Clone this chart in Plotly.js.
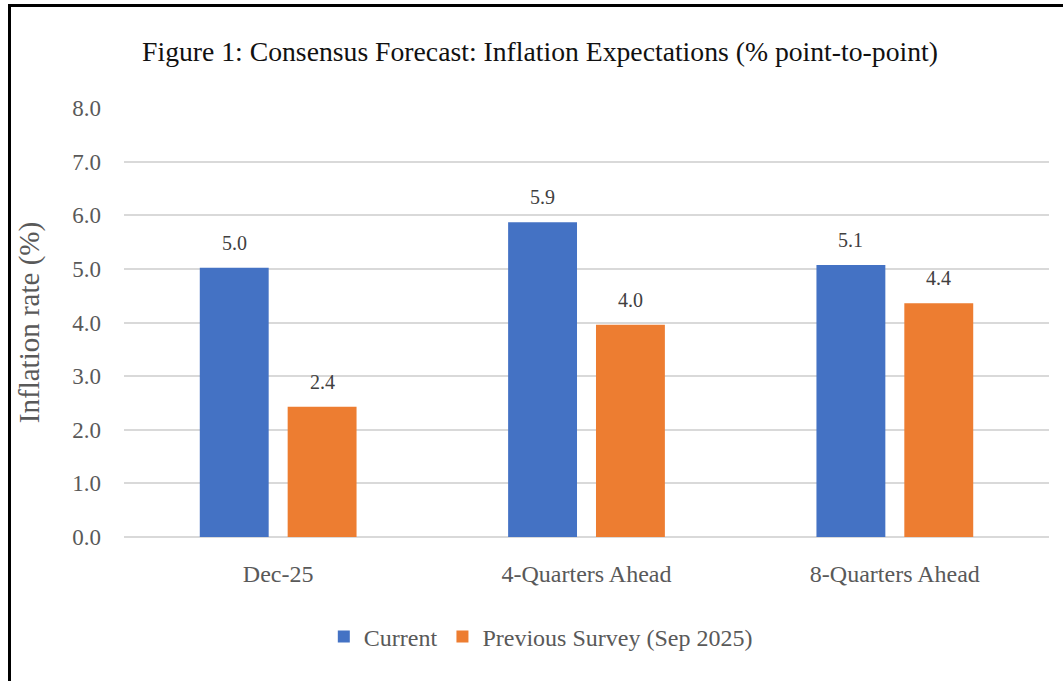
<!DOCTYPE html>
<html>
<head>
<meta charset="utf-8">
<script src="https://cdn.plot.ly/plotly-3.0.1.min.js"></script>
<style>
  html, body { margin: 0; padding: 0; background: #ffffff; }
  #wrap { position: relative; width: 1063px; height: 681px; overflow: hidden; }
  #chart { position: absolute; left: 0; top: 0; width: 1063px; height: 681px; }
  #frame { position: absolute; left: 8px; top: 4px; width: 1200px; height: 800px;
           border-left: 3px solid #000; border-top: 3px solid #000; pointer-events: none; }
</style>
</head>
<body>
<div id="wrap">
  <div id="chart"></div>
  <div id="frame"></div>
</div>
<script>
const categories = ["Dec-25", "4-Quarters Ahead", "8-Quarters Ahead"];
const currentValues = [5.02, 5.87, 5.07];
const previousValues = [2.43, 3.96, 4.36];
const seriesNames = ["Current", "Previous Survey (Sep 2025)"];
const yTickValues = [0, 1, 2, 3, 4, 5, 6, 7, 8];
const yTickLabels = ["0.0", "1.0", "2.0", "3.0", "4.0", "5.0", "6.0", "7.0", "8.0"];

const serif = "'Liberation Serif', 'Times New Roman', serif";

const traces = [
  { type: "bar", name: seriesNames[0], x: categories, y: currentValues,
    marker: { color: "#4472C4" }, hoverinfo: "x+y" },
  { type: "bar", name: seriesNames[1], x: categories, y: previousValues,
    marker: { color: "#ED7D31" }, hoverinfo: "x+y" }
];

const annotations = [];
[currentValues, previousValues].forEach(function (vals, si) {
  vals.forEach(function (v, i) {
    annotations.push({
      x: categories[i], y: v, xref: "x", yref: "y",
      text: v.toFixed(1), showarrow: false,
      xshift: si === 0 ? -44 : 44, yshift: 12, yanchor: "bottom",
      font: { family: serif, size: 20, color: "#404040" }
    });
  });
});

const layout = {
  width: 1063, height: 681,
  margin: { l: 124, r: 14, t: 108, b: 144 },
  paper_bgcolor: "#ffffff", plot_bgcolor: "#ffffff",
  title: { text: "Figure 1: Consensus Forecast: Inflation Expectations (% point-to-point)",
           x: 0.508, xanchor: "center", y: 0.925, yanchor: "middle",
           font: { family: serif, size: 27.7, color: "#111111" } },
  barmode: "group", bargap: 0.43, bargroupgap: 0.216,
  xaxis: { type: "category", showgrid: false, showline: false, ticks: "",
           tickfont: { family: serif, size: 24, color: "#595959" },
           ticklabelstandoff: 20 },
  yaxis: { range: [0, 8], tickvals: yTickValues, ticktext: yTickLabels,
           showgrid: true, gridcolor: "#d9d9d9", gridwidth: 2,
           zeroline: true, zerolinecolor: "#d9d9d9", zerolinewidth: 2,
           showline: false, ticks: "",
           tickfont: { family: serif, size: 23, color: "#595959" },
           ticklabelstandoff: 22,
           title: { text: "Inflation rate (%)", standoff: 24,
                    font: { family: serif, size: 29, color: "#595959" } } },
  showlegend: true,
  legend: { orientation: "h", x: 0.4506, xanchor: "center", y: -0.233, yanchor: "middle",
            font: { family: serif, size: 24, color: "#595959" }, itemwidth: 30,
            bgcolor: "rgba(0,0,0,0)" },
  annotations: annotations
};

Plotly.newPlot("chart", traces, layout, { displayModeBar: false, staticPlot: true });
</script>
</body>
</html>
